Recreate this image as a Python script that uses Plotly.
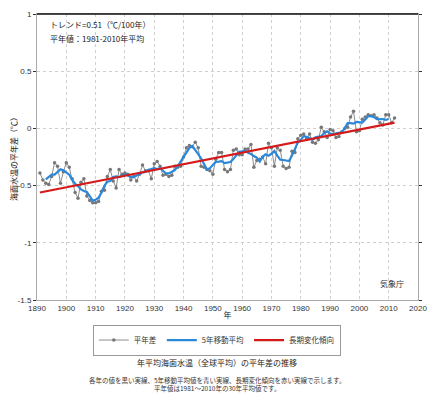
import plotly.graph_objects as go
import pandas as pd

years = list(range(1891, 2013))
anomaly = [
    -0.39, -0.45, -0.48, -0.49, -0.42, -0.30, -0.33, -0.48, -0.38, -0.30,   # 1891-1900
    -0.34, -0.44, -0.56, -0.61, -0.47, -0.44, -0.59, -0.63, -0.65, -0.65,   # 1901-1910
    -0.64, -0.55, -0.54, -0.42, -0.36, -0.46, -0.52, -0.36, -0.40, -0.39,   # 1911-1920
    -0.40, -0.45, -0.42, -0.46, -0.40, -0.32, -0.37, -0.37, -0.44, -0.31,   # 1921-1930
    -0.29, -0.33, -0.41, -0.40, -0.42, -0.41, -0.33, -0.34, -0.33, -0.25,   # 1931-1940
    -0.17, -0.15, -0.16, -0.12, -0.17, -0.33, -0.34, -0.36, -0.37, -0.40,   # 1941-1950
    -0.27, -0.21, -0.21, -0.36, -0.38, -0.36, -0.19, -0.18, -0.23, -0.23,   # 1951-1960
    -0.18, -0.18, -0.14, -0.34, -0.28, -0.27, -0.25, -0.31, -0.13, -0.17,   # 1961-1970
    -0.33, -0.17, -0.19, -0.33, -0.35, -0.34, -0.20, -0.21, -0.09, -0.06,   # 1971-1980
    -0.05, -0.09, -0.05, -0.12, -0.13, -0.10, 0.01, -0.03, -0.08, -0.01,    # 1981-1990
    -0.02, -0.08, -0.07, -0.03, 0.00, 0.01, 0.10, 0.15, -0.03, -0.02,       # 1991-2000
    0.08, 0.10, 0.12, 0.11, 0.12, 0.09, 0.05, 0.03, 0.12, 0.12,             # 2001-2010
    0.05, 0.09,                                                             # 2011-2012
]
trend_years = [1891, 2012]
trend_values = [-0.56, 0.05]

x_ticks = list(range(1890, 2021, 10))
y_ticks = [-1.5, -1, -0.5, 0, 0.5, 1]
y_tick_labels = ["-1.5", "-1", "-0.5", "0", "0.5", "1"]

moving = pd.Series(anomaly, index=years).rolling(5, center=True).mean()

FONT = "Noto Sans CJK JP, Noto Sans, sans-serif"
TICKFONT = "Liberation Sans, Arial, sans-serif"

fig = go.Figure()
fig.add_trace(go.Scatter(
    x=years, y=anomaly, mode="lines+markers", name="平年差",
    line=dict(color="#6e6e6e", width=0.8),
    marker=dict(color="#777777", size=3.5, symbol="circle"),
))
fig.add_trace(go.Scatter(
    x=list(moving.index), y=list(moving.values), mode="lines", name="5年移動平均",
    line=dict(color="#2a88da", width=2.2),
))
fig.add_trace(go.Scatter(
    x=trend_years, y=trend_values, mode="lines", name="長期変化傾向",
    line=dict(color="#d41a1a", width=2.2),
))

# the page body adds an 8px offset, so the figure is sized to fill the rest of the window
fig.update_layout(
    width=427, height=388,
    margin=dict(l=29, r=17, t=6, b=96, autoexpand=False),
    paper_bgcolor="white", plot_bgcolor="white",
    font=dict(family=FONT, size=8, color="#222"),
    showlegend=True,
    legend=dict(
        orientation="h", x=0.472, xanchor="center", y=-0.140, yanchor="middle",
        bordercolor="#999", borderwidth=1, font=dict(size=7.5, color="#333"),
        tracegroupgap=0,
    ),
    xaxis=dict(
        range=[1890, 2020], tickvals=x_ticks, ticktext=[str(v) for v in x_ticks],
        showgrid=True, gridcolor="#cfcfcf", griddash="dot", gridwidth=1,
        showline=True, linecolor="#aaa", mirror=True, zeroline=False,
        ticks="", tickfont=dict(family=TICKFONT, size=8, color="#333"), automargin=False,
        ticklabeloverflow="allow",
        title=dict(text="年", font=dict(size=8), standoff=0),
    ),
    yaxis=dict(
        range=[-1.5, 1], tickvals=y_ticks, ticktext=y_tick_labels,
        showgrid=True, gridcolor="#cfcfcf", griddash="dot", gridwidth=1,
        showline=True, linecolor="#aaa", mirror="ticks", zeroline=False,
        ticks="outside", ticklen=3, tickcolor="#333", automargin=False,
        ticklabeloverflow="allow",
        tickfont=dict(family=TICKFONT, size=8, color="#333"),
        title=dict(text="海面水温の平年差（℃）", font=dict(size=8), standoff=3),
    ),
    shapes=[dict(type="line", xref="paper", yref="paper", x0=0, x1=1, y0=1, y1=1,
                 line=dict(color="#111", width=1.5), layer="above")],
    annotations=[
        dict(text="トレンド=0.51（℃/100年）", xref="paper", yref="paper", x=0.029, y=0.965,
             xanchor="left", yanchor="middle", showarrow=False, font=dict(size=8)),
        dict(text="平年値：1981-2010年平均", xref="paper", yref="paper", x=0.029, y=0.916,
             xanchor="left", yanchor="middle", showarrow=False, font=dict(size=8)),
        dict(text="気象庁", xref="paper", yref="paper", x=0.932, y=0.059,
             xanchor="center", yanchor="middle", showarrow=False, font=dict(size=8, color="#333")),
        dict(text="年平均海面水温（全球平均）の平年差の推移", xref="paper", yref="paper",
             x=0.472, y=-0.220, xanchor="center", yanchor="middle", showarrow=False,
             font=dict(size=8, color="#222")),
        dict(text="各年の値を黒い実線、5年移動平均値を青い実線、長期変化傾向を赤い実線で示します。<br>"
                  "平年値は1981～2010年の30年平均値です。",
             xref="paper", yref="paper", x=0.472, y=-0.294, xanchor="center", yanchor="middle",
             showarrow=False, font=dict(size=6.5, color="#333")),
    ],
)

fig.write_html("out.html")
